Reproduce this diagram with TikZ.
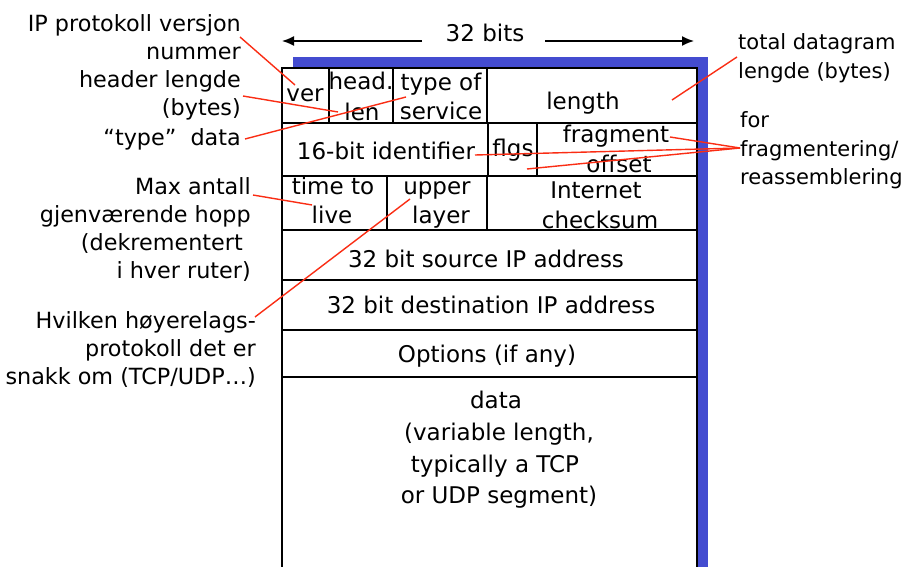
\documentclass[tikz,border=0pt]{standalone}
\usepackage{fontspec}
\setmainfont{DejaVu Sans}
\usetikzlibrary{arrows.meta}
\definecolor{shadowblue}{RGB}{68,76,208}
\definecolor{calloutred}{RGB}{250,45,20}
\begin{document}
\begin{tikzpicture}[x=1pt,y=-1pt,
  lbl/.style={font=\fontsize{22.3}{28}\selectfont, inner sep=0pt, anchor=base east},
  rlbl/.style={font=\fontsize{21}{28}\selectfont, inner sep=0pt, anchor=base west},
  cell/.style={font=\fontsize{23}{28}\selectfont, inner sep=0pt, anchor=base},
  gridline/.style={line width=1.8pt, black},
  callout/.style={draw=calloutred, line width=1.4pt},
  dimarrow/.style={line width=1.5pt, -{Latex[length=12pt,width=10pt]}}]
\useasboundingbox (0,0) rectangle (914,567);
% shadow and table
\fill[shadowblue] (293,57) rectangle (708,567);
\fill[white] (282,68) rectangle (697,567);
\draw[gridline] (282,567) -- (282,68) -- (697,68) -- (697,567);
\draw[gridline] (282,123) -- (697,123);
\draw[gridline] (282,176) -- (697,176);
\draw[gridline] (282,230) -- (697,230);
\draw[gridline] (282,280) -- (697,280);
\draw[gridline] (282,330) -- (697,330);
\draw[gridline] (282,377) -- (697,377);
\draw[gridline] (329,68) -- (329,123);
\draw[gridline] (393,68) -- (393,123);
\draw[gridline] (487,68) -- (487,123);
\draw[gridline] (488,123) -- (488,176);
\draw[gridline] (537,123) -- (537,176);
\draw[gridline] (387,176) -- (387,230);
\draw[gridline] (487,176) -- (487,230);
% 32 bits
\node[cell] (bits) at (485,42) {32 bits};
\coordinate (lstart) at (422,41);
\coordinate (ltip) at (282,41);
\coordinate (rstart) at (545,41);
\coordinate (rtip) at (694,41);
\draw[dimarrow] (lstart) -- (ltip);
\draw[dimarrow] (rstart) -- (rtip);
% cells
\node[cell] (ver) at (305,102) {ver};
\node[cell] (head) at (361,90) {head.};
\node[cell] (len) at (362,121) {len};
\node[cell] (tos1) at (441,91) {type of};
\node[cell] (tos2) at (441,120) {service};
\node[cell] (length) at (583,110) {length};
\node[cell] (ident) at (386,160) {16-bit identifier};
\node[cell] (flgs) at (513,157) {flgs};
\node[cell] (frag1) at (616,143) {fragment};
\node[cell] (frag2) at (619,173) {offset};
\node[cell] (ttl1c) at (333,195) {time to};
\node[cell] (ttl2c) at (332,224) {live};
\node[cell] (up1) at (437,195) {upper};
\node[cell] (up2) at (441,224) {layer};
\node[cell] (cks1) at (596,199) {Internet};
\node[cell] (cks2) at (600,229) {checksum};
\node[cell] (src) at (486,268) {32 bit source IP address};
\node[cell] (dst) at (491,313) {32 bit destination IP address};
\node[cell] (opt) at (487,362) {Options (if any)};
\node[cell] (data1) at (496,408) {data};
\node[cell] (data2) at (499,440) {(variable length,};
\node[cell] (data3) at (495,472) {typically a TCP};
\node[cell] (data4) at (499,503) {or UDP segment)};
% left labels
\node[lbl] (l1) at (241,32) {IP protokoll versjon};
\node[lbl] (l2) at (241,60) {nummer};
\node[lbl] (l3) at (241,88) {header lengde};
\node[lbl] (l4) at (241,116) {(bytes)};
\node[lbl] (l5) at (241,146) {“type”\ \ data};
\node[lbl] (m1) at (251,195) {Max antall};
\node[lbl] (m2) at (251,223) {gjenværende hopp};
\node[lbl] (m3) at (243,251) {(dekrementert};
\node[lbl] (m4) at (251,278) {i hver ruter)};
\node[lbl] (h1) at (256,328) {Hvilken høyerelags-};
\node[lbl] (h2) at (256,356) {protokoll det er};
\node[lbl] (h3) at (256,384) {snakk om (TCP/UDP…)};
% right labels
\node[rlbl] (r1) at (738,50) {total datagram};
\node[rlbl] (r2) at (738,79) {lengde (bytes)};
\node[rlbl] (f1) at (740,128) {for};
\node[rlbl] (f2) at (740,157) {fragmentering/};
\node[rlbl] (f3) at (740,185) {reassemblering};
% callout endpoints
\coordinate (cVerA) at (240,37);   \coordinate (cVerB) at (295,85);
\coordinate (cHlA) at (243,96);    \coordinate (cHlB) at (338,112);
\coordinate (cTosA) at (245,139);  \coordinate (cTosB) at (406,97);
\coordinate (cLenA) at (737,57);   \coordinate (cLenB) at (672,100);
\coordinate (cFrag) at (740,148);
\coordinate (cFragA) at (670,137);
\coordinate (cIdB) at (475,155);
\coordinate (cOffB) at (527,169);
\coordinate (cTtlA) at (253,195);  \coordinate (cTtlB) at (312,205);
\coordinate (cUpA) at (255,317);   \coordinate (cUpB) at (410,199);
\draw[callout] (cVerA) -- (cVerB);
\draw[callout] (cHlA) -- (cHlB);
\draw[callout] (cTosA) -- (cTosB);
\draw[callout] (cLenA) -- (cLenB);
\draw[callout] (cFrag) -- (cFragA);
\draw[callout] (cFrag) -- (cIdB);
\draw[callout] (cFrag) -- (cOffB);
\draw[callout] (cTtlA) -- (cTtlB);
\draw[callout] (cUpA) -- (cUpB);
\end{tikzpicture}
\end{document}
